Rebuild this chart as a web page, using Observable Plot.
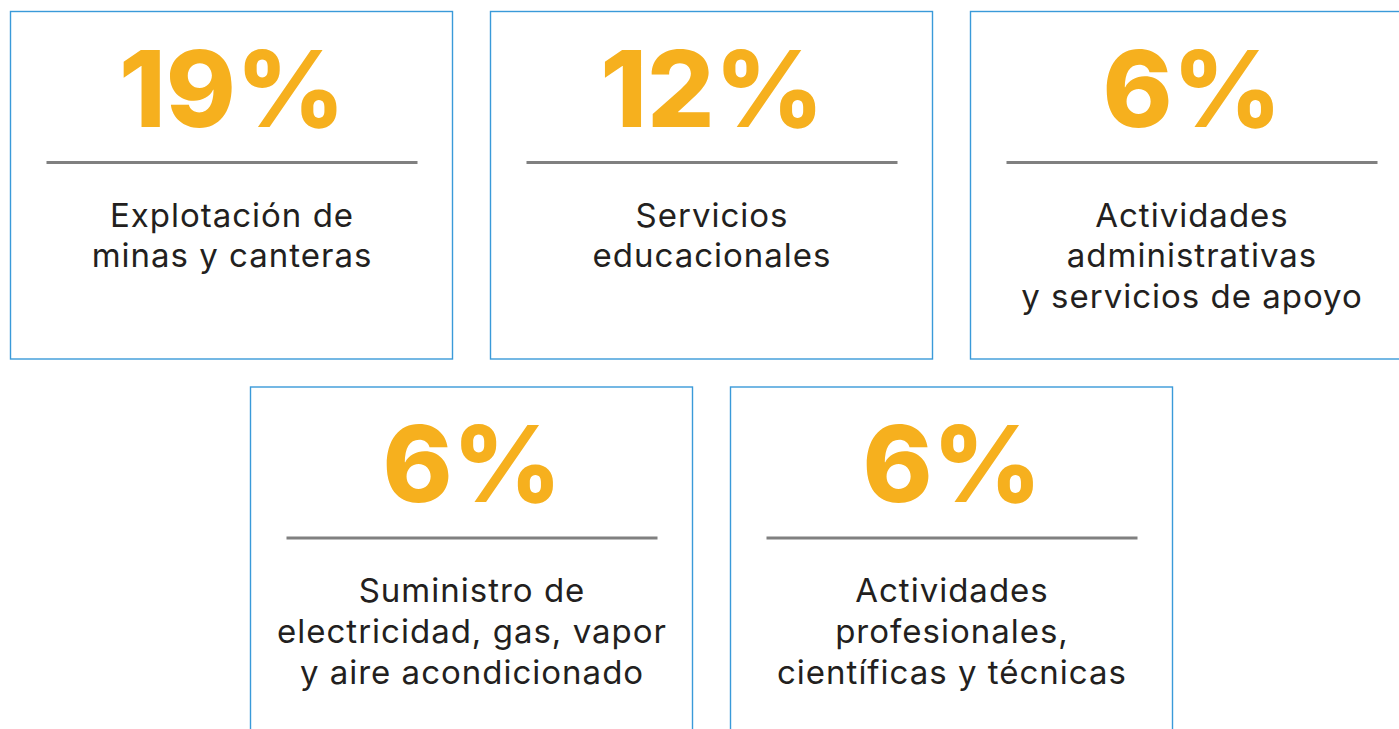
<!DOCTYPE html>
<html>
<head>
<meta charset="utf-8">
<script src="https://cdn.jsdelivr.net/npm/d3@7"></script>
<script src="https://cdn.jsdelivr.net/npm/@observablehq/plot@0.6"></script>
<style>
  html, body { margin: 0; padding: 0; background: #ffffff; overflow: hidden; }
  #chart { width: 1399px; height: 729px; }
</style>
</head>
<body>
<div id="chart"></div>
<script>
// ---- Data ----
const pcts = [19, 12, 6, 6, 6];
const sectors = [
  "Explotación de\nminas y canteras",
  "Servicios\neducacionales",
  "Actividades\nadministrativas\ny servicios de apoyo",
  "Suministro de\nelectricidad, gas, vapor\ny aire acondicionado",
  "Actividades\nprofesionales,\ncientíficas y técnicas"
];
// layout slots (grid column / row of each card)
const gridCol = [0, 1, 2, 0.5, 1.5];
const gridRow = [0, 0, 0, 1, 1];

const cards = pcts.map((p, i) => ({pct: p, label: sectors[i], col: gridCol[i], row: gridRow[i]}));

// ---- Layout (in slot units) ----
const PX = 1 / 480;     // one pixel in column units
const PY = 1 / 375.5;   // one pixel in row units
const cardW = 442 * PX;
const cardH = 347.5 * PY;
const cx = d => d.col + 221 * PX;

const numSize = 106;
const labSize = 33;
const labLine = 41;

const chart = Plot.plot({
  width: 1399,
  height: 729,
  margin: 0,
  style: {background: "#ffffff"},
  x: {type: "linear", domain: [0, 1], range: [10.5, 490.5], axis: null},
  y: {type: "linear", domain: [0, 1], range: [11.5, 387], axis: null},
  marks: [
    Plot.rect(cards, {
      x1: d => d.col, x2: d => d.col + cardW,
      y1: d => d.row, y2: d => d.row + cardH,
      fill: "#ffffff", stroke: "#3a9ad9", strokeWidth: 1.4
    }),
    Plot.ruleY(cards, {
      y: d => d.row + 150.5 * PY,
      x1: d => d.col + 36 * PX, x2: d => d.col + 407 * PX,
      stroke: "#808080", strokeWidth: 3
    }),
    Plot.text(cards, {
      x: cx, y: d => d.row + 114.5 * PY,
      text: d => `${d.pct}%`,
      lineAnchor: "bottom",
      fill: "#f6b01e",
      fontFamily: "Inter, 'Open Sans', sans-serif",
      fontWeight: 800,
      fontSize: numSize
    }),
    Plot.text(cards, {
      x: cx, y: d => d.row + (214.5 - 0.71 * labLine) * PY,
      text: "label",
      lineAnchor: "top",
      lineHeight: labLine / labSize,
      fill: "#231f20",
      fontFamily: "Inter, 'Open Sans', sans-serif",
      fontWeight: 400,
      fontSize: labSize
    })
  ]
});
// wider tracking for the sector labels (Montserrat-like spacing)
chart.querySelectorAll("text").forEach(t => {
  if (t.getAttribute("fill") === "#231f20" || (t.parentNode && t.parentNode.getAttribute("fill") === "#231f20")) {
    t.style.letterSpacing = "1px";
  }
});
chart.querySelectorAll("g").forEach(g => {
  if (g.getAttribute("fill") === "#231f20") g.style.letterSpacing = "1px";
});
document.getElementById("chart").appendChild(chart);
</script>
</body>
</html>
